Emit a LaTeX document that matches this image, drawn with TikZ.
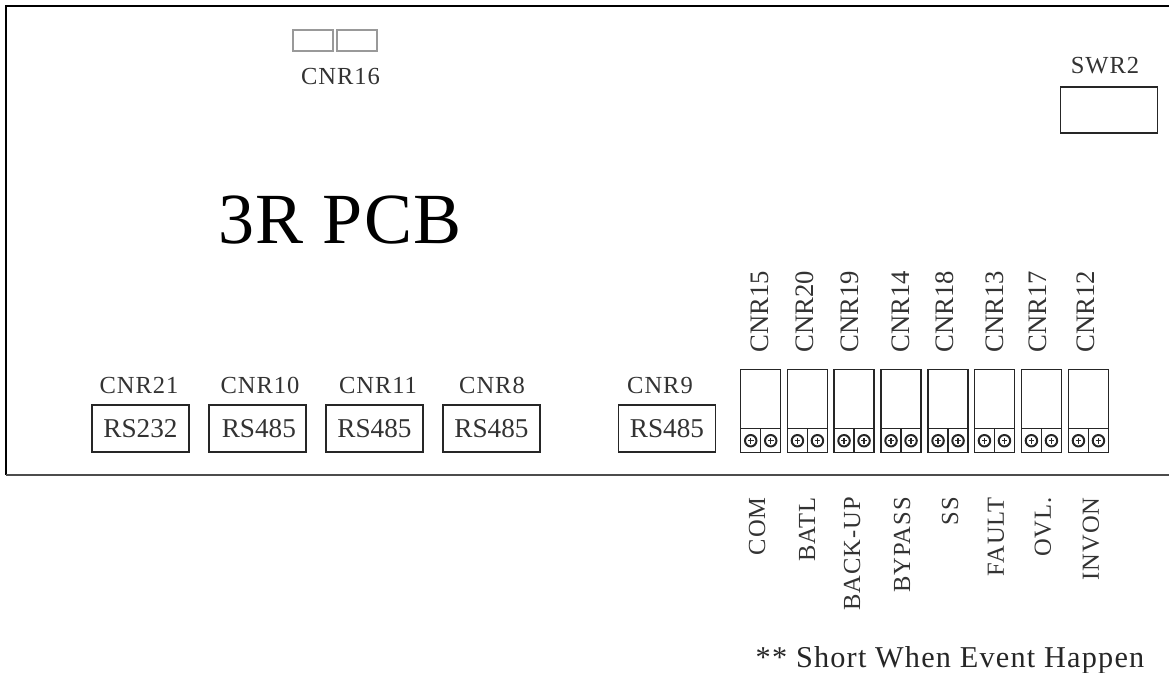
\documentclass[tikz,border=0pt]{standalone}
\usepackage{fontspec}
\setmainfont{Liberation Serif}
\newfontfamily\spacedfont[LetterSpace=4]{Liberation Serif}
\newfontfamily\titlefont[LetterSpace=1.5]{Liberation Serif}
\newcommand{\lblfont}{\spacedfont\fontsize{18.4pt}{22pt}\selectfont}
\newcommand{\upfont}{\rmfamily\fontsize{20pt}{24pt}\selectfont}
\newcommand{\portfont}{\rmfamily\fontsize{20.4pt}{24pt}\selectfont}
\tikzset{
  x=0.75pt,y=-0.75pt,
  lbl/.style={inner sep=0pt,text=black!80,font=\lblfont},
  vlbl/.style={inner sep=0pt,text=black!80,font=\upfont,rotate=90},
  elbl/.style={lbl,rotate=90,anchor=east},
  portbox/.style={draw=black!85,line width=1pt,minimum width=72.75pt,minimum height=35.25pt,inner sep=0pt,text=black!80,font=\portfont},
  relaybox/.style={draw=black!85,line width=1.1pt,minimum width=30pt,minimum height=44.25pt,inner sep=0pt,anchor=north west},
  screwcell/.style={draw=black!85,line width=1.1pt,minimum width=15pt,minimum height=18pt,inner sep=0pt,anchor=north west},
  screwhead/.style={circle,draw=black!85,line width=1.5pt,minimum size=8.6pt,inner sep=0pt},
  ghostbox/.style={draw=black!40,line width=0.8pt,minimum width=30pt,minimum height=15.75pt,inner sep=0pt}
}
\begin{document}
\begin{tikzpicture}
\useasboundingbox (0,0) rectangle (1169,672);
\fill[white] (0,0) rectangle (1169,672);
\coordinate (tl) at (6,6); \coordinate (tr) at (1169,6);
\coordinate (bl) at (6,475); \coordinate (br) at (1169,475);
\draw[black,line width=1pt] (tr) -- (tl) -- (bl);
\draw[black!70,line width=1pt] (bl) -- (br);
\node[inner sep=0pt,text=black,font=\titlefont\fontsize{54pt}{60pt}\selectfont] (title) at (340,220.5) {3R PCB};
\node[ghostbox] (g1) at (313,40.5) {};
\node[ghostbox] (g2) at (357,40.5) {};
\node[lbl] (l16) at (340.5,76) {CNR16};
\node[draw=black!85,line width=1pt,minimum width=72.75pt,minimum height=34.5pt,inner sep=0pt] (swr) at (1109,110) {};
\node[lbl] (lswr) at (1105,66) {SWR2};
\foreach \nm/\tx/\x in {a/RS232/140.5,b/\hspace{2pt}RS485/257.5,c/RS485/374.5,d/RS485/491.5,e/RS485/667}{
  \node[portbox] (p\nm) at (\x,428.5) {\tx};
}
\node[lbl] (la) at (139,385) {CNR21};
\node[lbl] (lb) at (260,385) {CNR10};
\node[lbl] (lc) at (378,385) {CNR11};
\node[lbl] (ld) at (492,385) {CNR8};
\node[lbl] (le) at (660,385) {CNR9};
\foreach \i/\x/\tx/\lx/\bt/\bx in {1/740/CNR15/760/COM/757,2/786.7/CNR20/805/BATL/807,3/833.3/CNR19/850/BACK-UP/852,4/880.3/CNR14/901/BYPASS/902,5/927.3/CNR18/945/SS/950,6/973.7/CNR13/995/FAULT/996,7/1020.7/CNR17/1038/OVL./1043,8/1067.7/CNR12/1086/INVON/1091}{
  \node[relaybox] (r\i) at (\x,369) {};
  \node[screwcell] (s\i a) at (\x,428) {};
  \node[screwcell] (s\i b) at (\x+20,428) {};
  \foreach \c in {a,b}{
    \node[screwhead] (h\i\c) at (s\i\c.center) {};
    \draw[black!85,line width=1pt] ([yshift=2.2pt]h\i\c.center) -- ([yshift=-2.2pt]h\i\c.center) ([xshift=-2.2pt]h\i\c.center) -- ([xshift=2.2pt]h\i\c.center);
  }
  \node[vlbl] (t\i) at (\lx,312) {\tx};
  \node[elbl] (u\i) at (\bx,497) {\bt};
}
\node[anchor=base,inner sep=0pt,text=black!85,font=\spacedfont\fontsize{22.7pt}{26pt}\selectfont] (note) at (950,667) {** Short When Event Happen};
\end{tikzpicture}
\end{document}
